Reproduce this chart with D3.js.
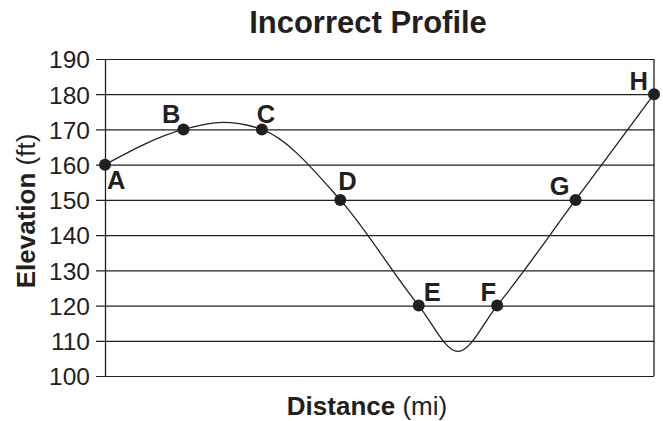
<!DOCTYPE html>
<html>
<head>
<meta charset="utf-8">
<script src="https://cdn.jsdelivr.net/npm/d3@7"></script>
<style>
  html, body { margin: 0; padding: 0; background: #fff; }
  svg { display: block; font-family: "Liberation Sans", Arial, Helvetica, sans-serif; }
</style>
</head>
<body>
<svg id="chart" width="663" height="421"></svg>
<script>
// ---- data ----
const stations = ["A", "B", "C", "D", "E", "F", "G", "H"];
const stationDistance = [0, 1, 2, 3, 4, 5, 6, 7];
const stationElevation = [160, 170, 170, 150, 120, 120, 150, 180];
// drawn profile line (includes the unlabeled crest and dip)
const profileDistance = [0, 1, 1.5, 2, 3, 4, 4.5, 5, 6, 7];
const profileElevation = [160, 170, 172, 170, 150, 120, 107, 120, 150, 180];
const yTicks = [100, 110, 120, 130, 140, 150, 160, 170, 180, 190];
const titleText = "Incorrect Profile";

// ---- layout ----
const ink = "#231f20";
const plotLeft = 105, plotRight = 654, plotTop = 59, plotBottom = 376;
const labelOffset = {
  A: { dx: 2, dy: 24, anchor: "start" },
  B: { dx: -3, dy: -6, anchor: "end" },
  C: { dx: -5, dy: -6, anchor: "start" },
  D: { dx: -2, dy: -10, anchor: "start" },
  E: { dx: 5, dy: -5, anchor: "start" },
  F: { dx: -1, dy: -5, anchor: "end" },
  G: { dx: -6, dy: -5, anchor: "end" },
  H: { dx: -6, dy: -4, anchor: "end" }
};

const svg = d3.select("#chart");
const x = d3.scaleLinear().domain([0, 7]).range([plotLeft, plotRight]);
const y = d3.scaleLinear().domain([100, 190]).range([plotBottom, plotTop]);

// title
svg.append("text")
  .attr("x", 368).attr("y", 33)
  .attr("text-anchor", "middle")
  .attr("font-size", 31).attr("font-weight", "bold")
  .attr("fill", ink)
  .text(titleText);

// y axis with full-width grid lines
const yAxis = d3.axisLeft(y).tickValues(yTicks)
  .tickSize(-(plotRight - plotLeft)).tickSizeOuter(0).tickPadding(0).tickFormat(d3.format("d"));
const gy = svg.append("g").attr("transform", `translate(${plotLeft},0)`).call(yAxis);
gy.select(".domain").attr("stroke", ink).attr("stroke-width", 1.3);
gy.selectAll(".tick line")
  .attr("x1", -9)
  .attr("stroke", ink).attr("stroke-width", 1.2);
gy.selectAll(".tick text")
  .attr("x", -15).attr("dy", "0.36em")
  .attr("font-size", 24.5).attr("fill", ink)
  .attr("font-family", "'Liberation Sans', Arial, sans-serif");

// right border
svg.append("line")
  .attr("x1", plotRight).attr("x2", plotRight)
  .attr("y1", y(190)).attr("y2", y(100))
  .attr("stroke", ink).attr("stroke-width", 1.3);

// profile curve
const profile = profileDistance.map((d, i) => [d, profileElevation[i]]);
const line = d3.line().x(d => x(d[0])).y(d => y(d[1])).curve(d3.curveMonotoneX);
svg.append("path")
  .datum(profile)
  .attr("d", line)
  .attr("fill", "none")
  .attr("stroke", ink).attr("stroke-width", 1.3);

// station points
const pts = stations.map((s, i) => ({ s, d: stationDistance[i], e: stationElevation[i] }));
svg.append("g").selectAll("circle").data(pts).join("circle")
  .attr("cx", d => x(d.d)).attr("cy", d => y(d.e)).attr("r", 6)
  .attr("fill", ink);

svg.append("g").selectAll("text").data(pts).join("text")
  .attr("x", d => x(d.d) + labelOffset[d.s].dx)
  .attr("y", d => y(d.e) + labelOffset[d.s].dy)
  .attr("text-anchor", d => labelOffset[d.s].anchor)
  .attr("font-size", 25.5).attr("font-weight", "bold")
  .attr("fill", ink)
  .text(d => d.s);

// x axis label
const xl = svg.append("text")
  .attr("x", 367).attr("y", 415)
  .attr("text-anchor", "middle")
  .attr("font-size", 26).attr("fill", ink);
xl.append("tspan").attr("font-weight", "bold").text("Distance");
xl.append("tspan").text(" (mi)");

// y axis label
const yl = svg.append("text")
  .attr("transform", "translate(35,211) rotate(-90)")
  .attr("text-anchor", "middle")
  .attr("font-size", 26).attr("fill", ink);
yl.append("tspan").attr("font-weight", "bold").text("Elevation");
yl.append("tspan").text(" (ft)");
</script>
</body>
</html>
